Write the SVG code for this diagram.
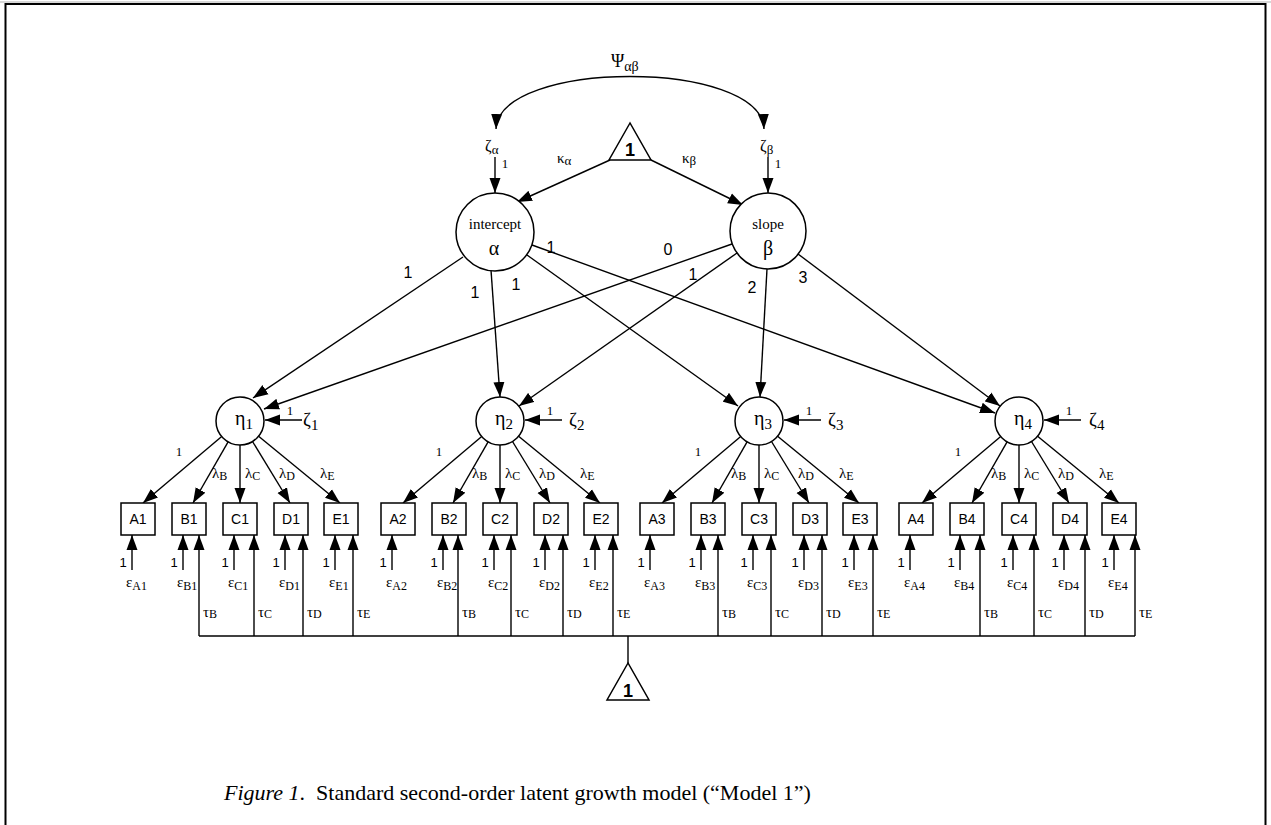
<svg xmlns="http://www.w3.org/2000/svg" width="1271" height="825" viewBox="0 0 1271 825">
<style>
.ln{stroke:#000;stroke-width:1.4;fill:none}
.ar{marker-end:url(#ah)}
.nd{fill:#fff;stroke:#000;stroke-width:1.5}
.sf{font-family:"Liberation Serif","Times New Roman",serif;fill:#000}
.ss{font-family:"Liberation Sans",Arial,sans-serif;fill:#000}
.bx{font-size:14px;text-anchor:middle}
.pl{font-size:16px;text-anchor:middle}
.one{font-size:13px;text-anchor:middle}
.gr{font-size:15px}
.sub{font-size:12px}
</style>
<defs>
<marker id="ah" markerWidth="16" markerHeight="12" refX="15" refY="6" orient="auto" markerUnits="userSpaceOnUse"><path d="M0,0.5 L15,6 L0,11.5 z" fill="#000"/></marker>
<marker id="ahs" markerWidth="16" markerHeight="12" refX="15" refY="6" orient="auto-start-reverse" markerUnits="userSpaceOnUse"><path d="M0,0.5 L15,6 L0,11.5 z" fill="#000"/></marker>
</defs>
<rect width="1271" height="825" fill="#fff"/>
<line x1="0" y1="2" x2="1271" y2="2" stroke="#b0b0b0" stroke-width="1.2"/>
<rect x="5.5" y="4" width="1260" height="850" fill="none" stroke="#000" stroke-width="2"/>

<g id="connectors">
<path class="ln" d="M496,129 C499,59 761,59 764,129" marker-start="url(#ahs)" marker-end="url(#ahs)"/>
<line class="ln ar" x1="495" y1="157" x2="495" y2="193"/>
<line class="ln ar" x1="768" y1="157" x2="768" y2="193"/>
<line class="ln ar" x1="610" y1="160" x2="517" y2="202"/>
<line class="ln ar" x1="651" y1="160" x2="743" y2="205"/>
<line class="ln ar" x1="463" y1="257" x2="253" y2="398"/>
<line class="ln ar" x1="491" y1="270" x2="500" y2="397"/>
<line class="ln ar" x1="527" y1="255" x2="738" y2="406"/>
<line class="ln ar" x1="532" y1="245" x2="995" y2="413"/>
<line class="ln ar" x1="732" y1="244" x2="264" y2="409"/>
<line class="ln ar" x1="737" y1="253" x2="519" y2="406"/>
<line class="ln ar" x1="767" y1="269" x2="760" y2="397"/>
<line class="ln ar" x1="798" y1="254" x2="1000" y2="406"/>
<line class="ln ar" x1="302" y1="420" x2="265" y2="420"/>
<line class="ln ar" x1="562" y1="420" x2="525" y2="420"/>
<line class="ln ar" x1="821" y1="420" x2="784" y2="420"/>
<line class="ln ar" x1="1081" y1="420" x2="1044" y2="420"/>
<line class="ln ar" x1="221.7" y1="436.5" x2="143" y2="503"/>
<line class="ln ar" x1="228.1" y1="441.8" x2="193" y2="503"/>
<line class="ln ar" x1="240" y1="445" x2="240" y2="503"/>
<line class="ln ar" x1="252.5" y1="441.5" x2="290" y2="503"/>
<line class="ln ar" x1="258.6" y1="436.2" x2="340" y2="503"/>
<line class="ln ar" x1="481.7" y1="436.5" x2="403" y2="503"/>
<line class="ln ar" x1="488.1" y1="441.8" x2="453" y2="503"/>
<line class="ln ar" x1="500" y1="445" x2="500" y2="503"/>
<line class="ln ar" x1="512.5" y1="441.5" x2="550" y2="503"/>
<line class="ln ar" x1="518.6" y1="436.2" x2="600" y2="503"/>
<line class="ln ar" x1="740.7" y1="436.5" x2="662" y2="503"/>
<line class="ln ar" x1="747.1" y1="441.8" x2="712" y2="503"/>
<line class="ln ar" x1="759" y1="445" x2="759" y2="503"/>
<line class="ln ar" x1="771.5" y1="441.5" x2="809" y2="503"/>
<line class="ln ar" x1="777.6" y1="436.2" x2="859" y2="503"/>
<line class="ln ar" x1="1000.7" y1="436.5" x2="922" y2="503"/>
<line class="ln ar" x1="1007.1" y1="441.8" x2="972" y2="503"/>
<line class="ln ar" x1="1019" y1="445" x2="1019" y2="503"/>
<line class="ln ar" x1="1031.5" y1="441.5" x2="1069" y2="503"/>
<line class="ln ar" x1="1037.6" y1="436.2" x2="1119" y2="503"/>
<g id="eps-arrows">
<line class="ln ar" x1="132" y1="570" x2="132" y2="535"/>
<line class="ln ar" x1="183" y1="570" x2="183" y2="535"/>
<line class="ln ar" x1="234" y1="570" x2="234" y2="535"/>
<line class="ln ar" x1="285" y1="570" x2="285" y2="535"/>
<line class="ln ar" x1="335" y1="570" x2="335" y2="535"/>
<line class="ln ar" x1="392" y1="570" x2="392" y2="535"/>
<line class="ln ar" x1="443" y1="570" x2="443" y2="535"/>
<line class="ln ar" x1="494" y1="570" x2="494" y2="535"/>
<line class="ln ar" x1="545" y1="570" x2="545" y2="535"/>
<line class="ln ar" x1="595" y1="570" x2="595" y2="535"/>
<line class="ln ar" x1="650" y1="570" x2="650" y2="535"/>
<line class="ln ar" x1="701" y1="570" x2="701" y2="535"/>
<line class="ln ar" x1="753" y1="570" x2="753" y2="535"/>
<line class="ln ar" x1="804" y1="570" x2="804" y2="535"/>
<line class="ln ar" x1="854" y1="570" x2="854" y2="535"/>
<line class="ln ar" x1="910" y1="570" x2="910" y2="535"/>
<line class="ln ar" x1="960" y1="570" x2="960" y2="535"/>
<line class="ln ar" x1="1013" y1="570" x2="1013" y2="535"/>
<line class="ln ar" x1="1064" y1="570" x2="1064" y2="535"/>
<line class="ln ar" x1="1114" y1="570" x2="1114" y2="535"/>
</g>
<g id="tau-arrows">
<line class="ln ar" x1="199" y1="636" x2="199" y2="535"/>
<line class="ln ar" x1="254" y1="636" x2="254" y2="535"/>
<line class="ln ar" x1="303" y1="636" x2="303" y2="535"/>
<line class="ln ar" x1="353" y1="636" x2="353" y2="535"/>
<line class="ln ar" x1="458" y1="636" x2="458" y2="535"/>
<line class="ln ar" x1="511" y1="636" x2="511" y2="535"/>
<line class="ln ar" x1="563" y1="636" x2="563" y2="535"/>
<line class="ln ar" x1="613" y1="636" x2="613" y2="535"/>
<line class="ln ar" x1="718" y1="636" x2="718" y2="535"/>
<line class="ln ar" x1="771" y1="636" x2="771" y2="535"/>
<line class="ln ar" x1="822" y1="636" x2="822" y2="535"/>
<line class="ln ar" x1="873" y1="636" x2="873" y2="535"/>
<line class="ln ar" x1="980" y1="636" x2="980" y2="535"/>
<line class="ln ar" x1="1034" y1="636" x2="1034" y2="535"/>
<line class="ln ar" x1="1085" y1="636" x2="1085" y2="535"/>
<line class="ln ar" x1="1135" y1="636" x2="1135" y2="535"/>
<line class="ln" x1="199" y1="636" x2="1135" y2="636"/>
<line class="ln" x1="628" y1="636" x2="628" y2="663"/>
</g>
</g>

<g id="psi-label"><text class="sf" x="611" y="67" font-size="18">Ψ<tspan font-size="14" dy="4">αβ</tspan></text></g>
<g id="zeta-alpha"><text class="sf" x="485" y="151" font-size="16">ζ<tspan font-size="13" dy="3">α</tspan></text><text class="sf one" x="505" y="168">1</text></g>
<g id="zeta-beta"><text class="sf" x="760" y="151" font-size="16">ζ<tspan font-size="13" dy="3">β</tspan></text><text class="sf one" x="778" y="168">1</text></g>
<g id="kappa-labels"><text class="sf" x="557" y="163" font-size="15">κ<tspan font-size="13" dy="2">α</tspan></text><text class="sf" x="682" y="163" font-size="15">κ<tspan font-size="13" dy="2">β</tspan></text></g>

<g id="const-top"><polygon class="nd" points="630,123 609,160 651,160"/><text class="ss" x="630" y="156" font-size="18" font-weight="bold" text-anchor="middle">1</text></g>
<g id="intercept"><circle class="nd" cx="495" cy="232" r="39"/><text class="sf" x="495" y="229" font-size="15" text-anchor="middle">intercept</text><text class="sf" x="494" y="255" font-size="20" text-anchor="middle">α</text></g>
<g id="slope"><circle class="nd" cx="768" cy="231" r="38"/><text class="sf" x="768" y="229" font-size="15" text-anchor="middle">slope</text><text class="sf" x="768" y="255" font-size="20" text-anchor="middle">β</text></g>

<g id="path-labels" class="ss pl">
<text x="408" y="278">1</text>
<text x="475" y="298">1</text>
<text x="516" y="290">1</text>
<text x="551" y="253">1</text>
<text x="668" y="255">0</text>
<text x="693" y="280">1</text>
<text x="752" y="293">2</text>
<text x="803" y="283">3</text>
</g>

<g id="eta1"><circle class="nd" cx="240" cy="421" r="24"/><text class="sf" x="244" y="425" font-size="20" text-anchor="middle">η<tspan font-size="15" dy="4">1</tspan></text></g>
<g id="eta2"><circle class="nd" cx="500" cy="421" r="24"/><text class="sf" x="504" y="425" font-size="20" text-anchor="middle">η<tspan font-size="15" dy="4">2</tspan></text></g>
<g id="eta3"><circle class="nd" cx="759" cy="421" r="24"/><text class="sf" x="763" y="425" font-size="20" text-anchor="middle">η<tspan font-size="15" dy="4">3</tspan></text></g>
<g id="eta4"><circle class="nd" cx="1019" cy="421" r="24"/><text class="sf" x="1023" y="425" font-size="20" text-anchor="middle">η<tspan font-size="15" dy="4">4</tspan></text></g>

<g id="zeta-labels" class="sf">
<text x="303" y="426" font-size="19">ζ<tspan font-size="15" dy="4">1</tspan></text>
<text x="569" y="426" font-size="19">ζ<tspan font-size="15" dy="4">2</tspan></text>
<text x="828" y="426" font-size="19">ζ<tspan font-size="15" dy="4">3</tspan></text>
<text x="1089" y="426" font-size="19">ζ<tspan font-size="15" dy="4">4</tspan></text>
<text class="one" x="290" y="415" font-size="14">1</text>
<text class="one" x="550" y="415" font-size="14">1</text>
<text class="one" x="809" y="415" font-size="14">1</text>
<text class="one" x="1069" y="415" font-size="14">1</text>
</g>

<g id="loading-labels" class="sf">
<text class="one" x="179" y="456">1</text>
<text class="gr" x="212" y="478">λ<tspan class="sub" dy="2">B</tspan></text>
<text class="gr" x="245" y="478">λ<tspan class="sub" dy="2">C</tspan></text>
<text class="gr" x="279" y="478">λ<tspan class="sub" dy="2">D</tspan></text>
<text class="gr" x="320" y="478">λ<tspan class="sub" dy="2">E</tspan></text>
<text class="one" x="439" y="456">1</text>
<text class="gr" x="472" y="478">λ<tspan class="sub" dy="2">B</tspan></text>
<text class="gr" x="505" y="478">λ<tspan class="sub" dy="2">C</tspan></text>
<text class="gr" x="539" y="478">λ<tspan class="sub" dy="2">D</tspan></text>
<text class="gr" x="580" y="478">λ<tspan class="sub" dy="2">E</tspan></text>
<text class="one" x="698" y="456">1</text>
<text class="gr" x="731" y="478">λ<tspan class="sub" dy="2">B</tspan></text>
<text class="gr" x="764" y="478">λ<tspan class="sub" dy="2">C</tspan></text>
<text class="gr" x="798" y="478">λ<tspan class="sub" dy="2">D</tspan></text>
<text class="gr" x="839" y="478">λ<tspan class="sub" dy="2">E</tspan></text>
<text class="one" x="958" y="456">1</text>
<text class="gr" x="991" y="478">λ<tspan class="sub" dy="2">B</tspan></text>
<text class="gr" x="1024" y="478">λ<tspan class="sub" dy="2">C</tspan></text>
<text class="gr" x="1058" y="478">λ<tspan class="sub" dy="2">D</tspan></text>
<text class="gr" x="1099" y="478">λ<tspan class="sub" dy="2">E</tspan></text>
</g>

<g id="boxes" class="ss bx">
<g id="A1"><rect class="nd" x="121" y="503" width="34" height="32"/><text x="138" y="524">A1</text></g>
<g id="B1"><rect class="nd" x="172" y="503" width="34" height="32"/><text x="189" y="524">B1</text></g>
<g id="C1"><rect class="nd" x="223" y="503" width="34" height="32"/><text x="240" y="524">C1</text></g>
<g id="D1"><rect class="nd" x="274" y="503" width="34" height="32"/><text x="291" y="524">D1</text></g>
<g id="E1"><rect class="nd" x="324" y="503" width="34" height="32"/><text x="341" y="524">E1</text></g>
<g id="A2"><rect class="nd" x="381" y="503" width="34" height="32"/><text x="398" y="524">A2</text></g>
<g id="B2"><rect class="nd" x="432" y="503" width="34" height="32"/><text x="449" y="524">B2</text></g>
<g id="C2"><rect class="nd" x="483" y="503" width="34" height="32"/><text x="500" y="524">C2</text></g>
<g id="D2"><rect class="nd" x="534" y="503" width="34" height="32"/><text x="551" y="524">D2</text></g>
<g id="E2"><rect class="nd" x="584" y="503" width="34" height="32"/><text x="601" y="524">E2</text></g>
<g id="A3"><rect class="nd" x="640" y="503" width="34" height="32"/><text x="657" y="524">A3</text></g>
<g id="B3"><rect class="nd" x="691" y="503" width="34" height="32"/><text x="708" y="524">B3</text></g>
<g id="C3"><rect class="nd" x="742" y="503" width="34" height="32"/><text x="759" y="524">C3</text></g>
<g id="D3"><rect class="nd" x="793" y="503" width="34" height="32"/><text x="810" y="524">D3</text></g>
<g id="E3"><rect class="nd" x="843" y="503" width="34" height="32"/><text x="860" y="524">E3</text></g>
<g id="A4"><rect class="nd" x="899" y="503" width="34" height="32"/><text x="916" y="524">A4</text></g>
<g id="B4"><rect class="nd" x="950" y="503" width="34" height="32"/><text x="967" y="524">B4</text></g>
<g id="C4"><rect class="nd" x="1002" y="503" width="34" height="32"/><text x="1019" y="524">C4</text></g>
<g id="D4"><rect class="nd" x="1053" y="503" width="34" height="32"/><text x="1070" y="524">D4</text></g>
<g id="E4"><rect class="nd" x="1102" y="503" width="34" height="32"/><text x="1119" y="524">E4</text></g>
</g>

<g id="eps-ones" class="ss one">
<text x="123" y="567">1</text><text x="174" y="567">1</text><text x="225" y="567">1</text><text x="276" y="567">1</text><text x="326" y="567">1</text>
<text x="383" y="567">1</text><text x="434" y="567">1</text><text x="485" y="567">1</text><text x="536" y="567">1</text><text x="586" y="567">1</text>
<text x="641" y="567">1</text><text x="692" y="567">1</text><text x="744" y="567">1</text><text x="795" y="567">1</text><text x="845" y="567">1</text>
<text x="901" y="567">1</text><text x="951" y="567">1</text><text x="1004" y="567">1</text><text x="1055" y="567">1</text><text x="1105" y="567">1</text>
</g>

<g id="eps-labels" class="sf gr">
<text x="126" y="587">ε<tspan class="sub" dy="3">A1</tspan></text>
<text x="177" y="587">ε<tspan class="sub" dy="3">B1</tspan></text>
<text x="228" y="587">ε<tspan class="sub" dy="3">C1</tspan></text>
<text x="279" y="587">ε<tspan class="sub" dy="3">D1</tspan></text>
<text x="329" y="587">ε<tspan class="sub" dy="3">E1</tspan></text>
<text x="386" y="587">ε<tspan class="sub" dy="3">A2</tspan></text>
<text x="437" y="587">ε<tspan class="sub" dy="3">B2</tspan></text>
<text x="488" y="587">ε<tspan class="sub" dy="3">C2</tspan></text>
<text x="539" y="587">ε<tspan class="sub" dy="3">D2</tspan></text>
<text x="589" y="587">ε<tspan class="sub" dy="3">E2</tspan></text>
<text x="644" y="587">ε<tspan class="sub" dy="3">A3</tspan></text>
<text x="695" y="587">ε<tspan class="sub" dy="3">B3</tspan></text>
<text x="747" y="587">ε<tspan class="sub" dy="3">C3</tspan></text>
<text x="798" y="587">ε<tspan class="sub" dy="3">D3</tspan></text>
<text x="848" y="587">ε<tspan class="sub" dy="3">E3</tspan></text>
<text x="904" y="587">ε<tspan class="sub" dy="3">A4</tspan></text>
<text x="954" y="587">ε<tspan class="sub" dy="3">B4</tspan></text>
<text x="1007" y="587">ε<tspan class="sub" dy="3">C4</tspan></text>
<text x="1058" y="587">ε<tspan class="sub" dy="3">D4</tspan></text>
<text x="1108" y="587">ε<tspan class="sub" dy="3">E4</tspan></text>
</g>

<g id="tau-labels" class="sf gr">
<text x="203" y="617">τ<tspan class="sub" dy="1">B</tspan></text>
<text x="258" y="617">τ<tspan class="sub" dy="1">C</tspan></text>
<text x="307" y="617">τ<tspan class="sub" dy="1">D</tspan></text>
<text x="357" y="617">τ<tspan class="sub" dy="1">E</tspan></text>
<text x="462" y="617">τ<tspan class="sub" dy="1">B</tspan></text>
<text x="515" y="617">τ<tspan class="sub" dy="1">C</tspan></text>
<text x="567" y="617">τ<tspan class="sub" dy="1">D</tspan></text>
<text x="617" y="617">τ<tspan class="sub" dy="1">E</tspan></text>
<text x="722" y="617">τ<tspan class="sub" dy="1">B</tspan></text>
<text x="775" y="617">τ<tspan class="sub" dy="1">C</tspan></text>
<text x="826" y="617">τ<tspan class="sub" dy="1">D</tspan></text>
<text x="877" y="617">τ<tspan class="sub" dy="1">E</tspan></text>
<text x="984" y="617">τ<tspan class="sub" dy="1">B</tspan></text>
<text x="1038" y="617">τ<tspan class="sub" dy="1">C</tspan></text>
<text x="1089" y="617">τ<tspan class="sub" dy="1">D</tspan></text>
<text x="1139" y="617">τ<tspan class="sub" dy="1">E</tspan></text>
</g>

<g id="const-bottom"><polygon class="nd" points="628,663 607,700 649,700"/><text class="ss" x="628" y="697" font-size="18" font-weight="bold" text-anchor="middle">1</text></g>

<g id="caption"><text class="sf" x="224" y="800" font-size="22"><tspan font-style="italic">Figure 1</tspan>.&#160; Standard second-order latent growth model (“Model 1”)</text></g>
</svg>
